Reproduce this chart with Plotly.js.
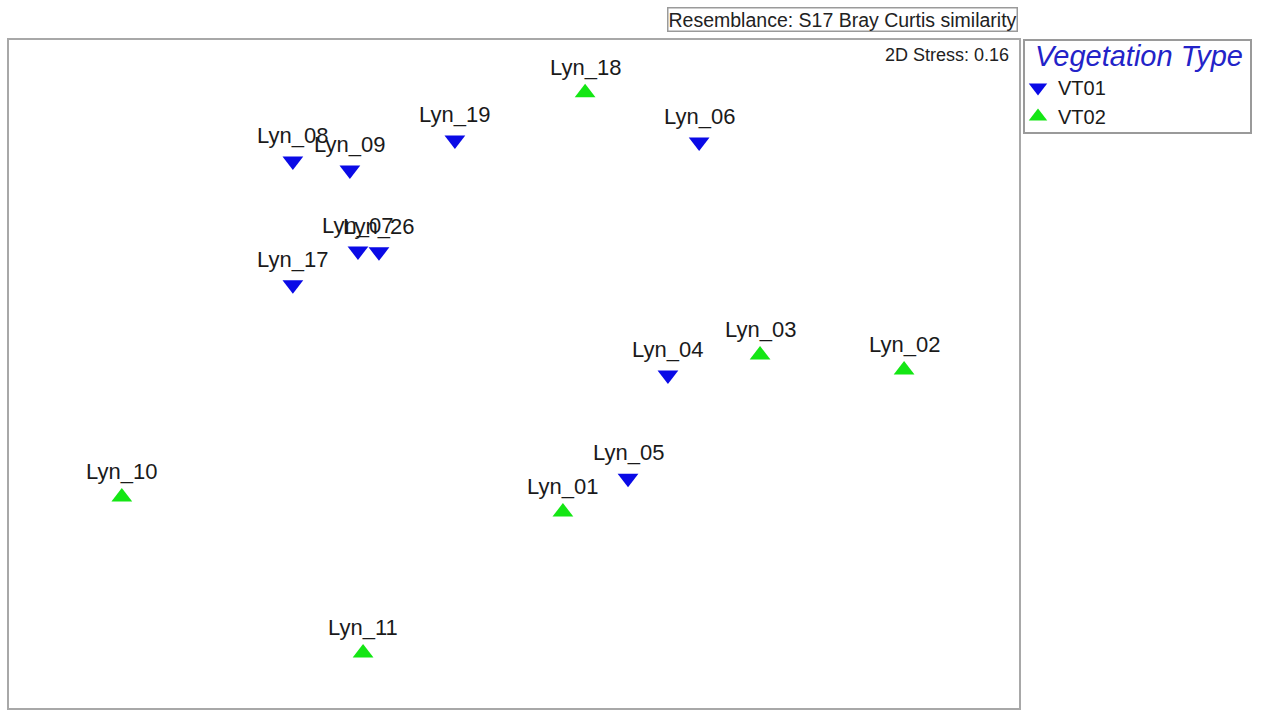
<!DOCTYPE html>
<html>
<head>
<meta charset="utf-8">
<script src="https://cdn.plot.ly/plotly-3.0.1.min.js"></script>
<style>html,body{margin:0;padding:0;background:#fff;}#chart{width:1262px;height:710px;}</style>
</head>
<body>
<div id="chart"></div>
<script>
// NMDS ordination coordinates
const vt01Labels = ["Lyn_19", "Lyn_06", "Lyn_08", "Lyn_09", "Lyn_07", "Lyn_26", "Lyn_17", "Lyn_04", "Lyn_05"];
const vt01X = [-0.197, 0.617, -0.737, -0.547, -0.52, -0.45, -0.737, 0.513, 0.38];
const vt01Y = [0.78, 0.773, 0.71, 0.68, 0.41, 0.407, 0.297, -0.003, -0.347];

const vt02Labels = ["Lyn_18", "Lyn_03", "Lyn_02", "Lyn_01", "Lyn_10", "Lyn_11"];
const vt02X = [0.237, 0.82, 1.3, 0.163, -1.307, -0.503];
const vt02Y = [0.937, 0.063, 0.013, -0.46, -0.41, -0.93];

const groupNames = ["VT01", "VT02"];
const stressText = "2D Stress: 0.16";
const resemblanceText = "Resemblance: S17 Bray Curtis similarity";
const legendTitle = "Vegetation Type";

const FONT = "Arial, 'Liberation Sans', sans-serif";

const traces = [
  {
    type: "scatter", mode: "markers", name: groupNames[0],
    x: vt01X, y: vt01Y, text: vt01Labels, hoverinfo: "text",
    marker: {symbol: "triangle-down", size: 18, color: "#0a0ae6", line: {width: 0}}
  },
  {
    type: "scatter", mode: "markers", name: groupNames[1],
    x: vt02X, y: vt02Y, text: vt02Labels, hoverinfo: "text",
    marker: {symbol: "triangle-up", size: 18, color: "#14e614", line: {width: 0}}
  }
];

const annotations = [];
function addLabels(labels, xs, ys) {
  labels.forEach((t, i) => {
    annotations.push({
      x: xs[i], y: ys[i], xref: "x", yref: "y", text: t, showarrow: false,
      xanchor: "center", yanchor: "bottom", yshift: 11,
      font: {family: FONT, size: 22, color: "#1a1a1a"}
    });
  });
}
addLabels(vt01Labels, vt01X, vt01Y);
addLabels(vt02Labels, vt02X, vt02Y);

annotations.push({
  xref: "paper", yref: "paper", x: 0.9995, y: 1, xanchor: "right", yanchor: "bottom",
  yshift: 8, showarrow: false, text: resemblanceText,
  font: {family: FONT, size: 19.5, color: "#222"},
  bordercolor: "#9a9a9a", borderwidth: 1.5, borderpad: 0, bgcolor: "#fff"
});
annotations.push({
  xref: "paper", yref: "paper", x: 0.992, y: 0.996, xanchor: "right", yanchor: "top",
  showarrow: false, text: stressText,
  font: {family: FONT, size: 18, color: "#222"}
});
annotations.push({
  xref: "paper", yref: "paper", x: 1.0139, y: 0.976, xanchor: "left", yanchor: "middle",
  showarrow: false, text: "<i>" + legendTitle + "</i>",
  font: {family: FONT, size: 29, color: "#2323c8"}
});

const axisCommon = {
  showgrid: false, zeroline: false, showticklabels: false, ticks: "",
  showline: true, mirror: true, linecolor: "#a8a8a8", linewidth: 2, fixedrange: true
};

const layout = {
  width: 1262, height: 710,
  margin: {l: 9, r: 243, t: 40, b: 2},
  paper_bgcolor: "#fff", plot_bgcolor: "#fff",
  font: {family: FONT},
  xaxis: Object.assign({range: [-1.683, 1.683]}, axisCommon),
  yaxis: Object.assign({range: [-1.113, 1.113]}, axisCommon),
  showlegend: true,
  legend: {
    x: 0.999, y: 0.958, xanchor: "left", yanchor: "top",
    borderwidth: 0, bgcolor: "rgba(0,0,0,0)",
    font: {family: FONT, size: 20, color: "#1a1a1a"},
    tracegroupgap: 0, itemwidth: 30
  },
  shapes: [{
    type: "rect", xref: "paper", yref: "paper",
    x0: 1.00495, x1: 1.2297, y0: 0.8608, y1: 1.0,
    line: {color: "#9a9a9a", width: 2}, fillcolor: "rgba(0,0,0,0)", layer: "below"
  }],
  annotations: annotations
};

Plotly.newPlot("chart", traces, layout, {displayModeBar: false, staticPlot: true});
</script>
</body>
</html>
